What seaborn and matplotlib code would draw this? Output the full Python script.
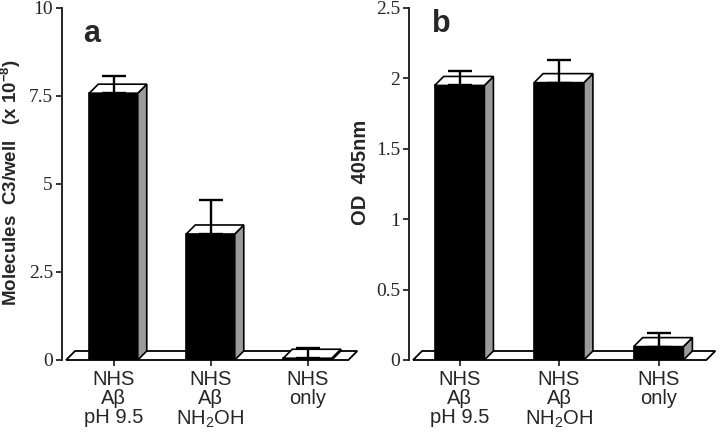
import numpy as np
import pandas as pd
import seaborn as sns
import matplotlib.pyplot as plt
from matplotlib.patches import Polygon

sns.set_style('ticks')
plt.rcParams['font.family'] = ['Liberation Sans', 'DejaVu Sans']
plt.rcParams['mathtext.default'] = 'regular'

# data
labels = ['NHS\nAβ\npH 9.5', 'NHS\nAβ\nNH$_2$OH', 'NHS\nonly']
c3_molecules = [7.58, 3.58, 0.05]      # x 10^-8
c3_err = [0.49, 0.97, 0.28]
od405 = [1.95, 1.97, 0.095]
od405_err = [0.10, 0.16, 0.095]

fig = plt.figure(figsize=(7.2, 4.37), dpi=100)
W, H = 720, 437
ax1 = fig.add_axes([62 / W, 77 / H, 298 / W, 352 / H])
ax2 = fig.add_axes([409 / W, 77 / H, 309 / W, 352 / H])

DEPTH = 9  # pixels, 3d offset


def draw_panel(ax, vals, errs, ylim, yticks, yticklabels, xlim, ylabel, ylabel_size,
               letter, letter_pos, label_xy):
    df = pd.DataFrame({'cond': labels, 'val': vals})
    sns.barplot(data=df, x='cond', y='val', color='black', width=0.5,
                edgecolor='black', linewidth=1.2, saturation=1, ax=ax, zorder=3)
    ax.set_xlim(*xlim)
    ax.set_ylim(*ylim)

    # pixel offset -> data units
    inv = ax.transData.inverted()
    p0 = inv.transform(ax.transData.transform((0, 0)))
    p1 = inv.transform(ax.transData.transform((0, 0)) + np.array([DEPTH, DEPTH]))
    dx, dy = p1 - p0

    # floor
    x_left = xlim[0] + dx * 0.45
    x_right = xlim[1] - dx * 1.3
    floor = Polygon([(x_left, 0), (x_left + dx, dy), (x_right + dx, dy), (x_right, 0)],
                    closed=True, facecolor='white', edgecolor='black', lw=1.3, zorder=2,
                    clip_on=False)
    ax.add_patch(floor)

    for bar in list(ax.patches):
        if bar is floor:
            continue
        x0 = bar.get_x()
        x1 = x0 + bar.get_width()
        h = bar.get_height()
        side = Polygon([(x1, 0), (x1 + dx, dy), (x1 + dx, h + dy), (x1, h)], closed=True,
                       facecolor='#9a9a9a', edgecolor='black', lw=1.2, zorder=3)
        top = Polygon([(x0, h), (x0 + dx, h + dy), (x1 + dx, h + dy), (x1, h)], closed=True,
                      facecolor='white', edgecolor='black', lw=1.2, zorder=4)
        ax.add_patch(side)
        ax.add_patch(top)

    ax.errorbar(np.arange(len(vals)), vals, yerr=[np.zeros(len(vals)), errs], fmt='none',
                ecolor='black', elinewidth=1.7, capsize=8.5, capthick=1.7, zorder=6)

    sns.despine(ax=ax, bottom=True)
    ax.spines['left'].set_linewidth(1.4)
    ax.set_yticks(yticks)
    ax.set_yticklabels(yticklabels, fontfamily='Liberation Serif', fontsize=14)
    ax.tick_params(axis='y', length=4.5, width=1.3, pad=2)
    ax.tick_params(axis='x', length=4.5, width=1.3, pad=3, labelsize=14.5)
    for t in ax.get_xticklabels():
        t.set_linespacing(1.0)
    ax.set_xlabel('')
    ax.set_ylabel(ylabel, fontsize=ylabel_size, fontweight='bold')
    ax.yaxis.set_label_coords(*label_xy)
    ax.text(letter_pos[0], letter_pos[1], letter, transform=ax.transAxes, fontsize=22,
            fontweight='bold', ha='center', va='center')


draw_panel(ax1, c3_molecules, c3_err, (0, 10), [0, 2.5, 5, 7.5, 10],
           ['0', '2.5', '5', '7.5', '10'], (-0.531, 2.541),
           r'Molecules  C3/well   (x 10$^{-8}$)', 13.5, 'a', (0.10, 0.925), (-0.131, 0.505))
draw_panel(ax2, od405, od405_err, (0, 2.5), [0, 0.5, 1, 1.5, 2, 2.5],
           ['0', '0.5', '1', '1.5', '2', '2.5'], (-0.508, 2.598),
           'OD  405nm', 14.5, 'b', (0.104, 0.955), (-0.126, 0.534))

fig.savefig('out.png', dpi=100)
